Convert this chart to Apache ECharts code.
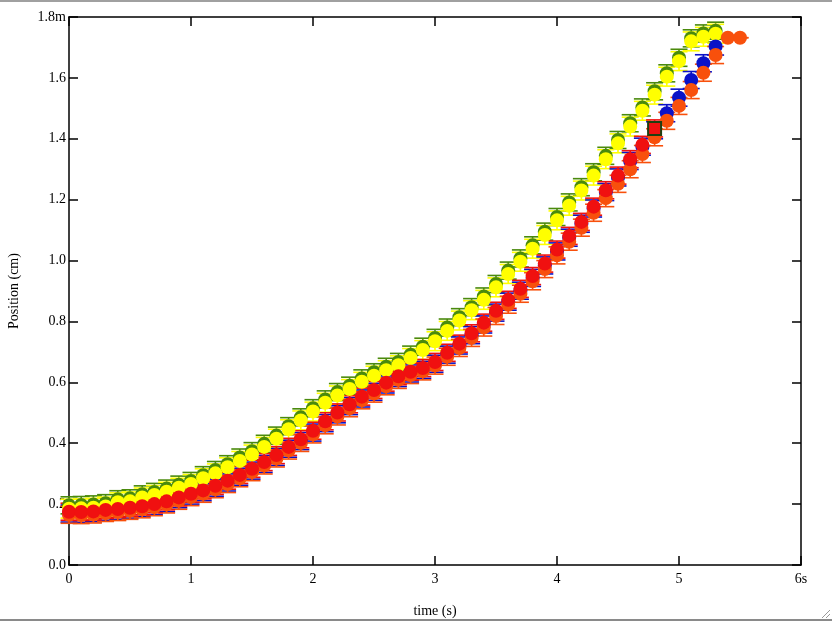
<!DOCTYPE html>
<html>
<head>
<meta charset="utf-8">
<script src="https://cdn.jsdelivr.net/npm/echarts@6/dist/echarts.min.js"></script>
<style>
html,body{margin:0;padding:0;background:#fff;}
#chart{width:832px;height:621px;}
</style>
</head>
<body>
<div id="chart"></div>
<script>
// time values (s)
var times = [0,0.1,0.2,0.3,0.4,0.5,0.6,0.7,0.8,0.9,1.0,1.1,1.2,1.3,1.4,1.5,1.6,1.7,1.8,1.9,
  2.0,2.1,2.2,2.3,2.4,2.5,2.6,2.7,2.8,2.9,3.0,3.1,3.2,3.3,3.4,3.5,3.6,3.7,3.8,3.9,
  4.0,4.1,4.2,4.3,4.4,4.5,4.6,4.7,4.8,4.9,5.0,5.1,5.2,5.3,5.4,5.5];

var greenVals = [0.196,0.197,0.199,0.203,0.216,0.219,0.232,0.240,0.251,0.264,0.276,0.295,0.312,0.331,0.353,0.374,0.398,0.425,0.456,0.485,
  0.515,0.544,0.568,0.589,0.613,0.633,0.651,0.667,0.691,0.717,0.746,0.780,0.814,0.847,0.882,0.923,0.967,1.007,1.050,1.095,
  1.143,1.191,1.241,1.290,1.344,1.396,1.451,1.503,1.556,1.615,1.666,1.730,1.746,1.755];
var yellowVals = [0.185,0.186,0.188,0.192,0.206,0.209,0.222,0.230,0.241,0.254,0.266,0.285,0.301,0.321,0.342,0.363,0.388,0.415,0.446,0.475,
  0.504,0.533,0.557,0.578,0.602,0.622,0.640,0.656,0.680,0.706,0.735,0.769,0.803,0.837,0.871,0.912,0.956,0.996,1.039,1.084,
  1.132,1.180,1.230,1.279,1.333,1.385,1.440,1.492,1.545,1.604,1.655,1.720,1.735,1.745];
var blueVals = [0.169,0.168,0.170,0.175,0.178,0.182,0.187,0.194,0.203,0.216,0.228,0.239,0.254,0.271,0.290,0.310,0.332,0.355,0.382,0.407,
  0.435,0.466,0.495,0.522,0.547,0.569,0.593,0.614,0.629,0.641,0.661,0.691,0.721,0.755,0.790,0.829,0.865,0.901,0.943,0.984,
  1.030,1.075,1.121,1.171,1.225,1.273,1.327,1.374,1.428,1.484,1.535,1.593,1.648,1.703];
var orangeVals = [0.165,0.164,0.166,0.171,0.174,0.178,0.183,0.190,0.199,0.211,0.223,0.234,0.249,0.266,0.285,0.305,0.327,0.350,0.376,0.401,
  0.429,0.459,0.488,0.515,0.541,0.563,0.587,0.608,0.624,0.636,0.655,0.684,0.713,0.746,0.780,0.818,0.855,0.891,0.932,0.972,
  1.017,1.062,1.108,1.157,1.205,1.252,1.300,1.350,1.405,1.459,1.508,1.560,1.617,1.675,1.732,1.732];
var redVals = [0.175,0.174,0.176,0.181,0.184,0.188,0.193,0.200,0.209,0.222,0.234,0.245,0.260,0.277,0.296,0.316,0.338,0.361,0.388,0.413,
  0.441,0.472,0.501,0.528,0.553,0.575,0.599,0.620,0.635,0.647,0.667,0.697,0.727,0.761,0.796,0.835,0.871,0.907,0.949,0.990,
  1.036,1.081,1.127,1.177,1.231,1.279,1.333,1.380,1.434];

// error half-widths (position units)
var errGreen = 0.028, errYellow = 0.031, errBlue = 0.028, errOrange = 0.028, errRed = 0.028;
// orange points with zero error (indices)
var orangeZeroErrIdx = [54, 55];
// red point drawn with square marker
var redSquareIdx = 48;

var xTicks = ['0','1','2','3','4','5','6s'];
var yTicks = ['0.0','0.2','0.4','0.6','0.8','1.0','1.2','1.4','1.6','1.8m'];

function pts(vals, err, zeroIdx) {
  return vals.map(function (v, i) {
    var e = (zeroIdx && zeroIdx.indexOf(i) >= 0) ? 0 : err;
    return [times[i], v, e];
  });
}

var SERIF = '"Liberation Serif","DejaVu Serif",serif';

function errSeries(name, data, color) {
  return {
    name: name + ' err',
    type: 'custom',
    silent: true,
    data: data,
    renderItem: function (params, api) {
      var x = api.value(0), y = api.value(1), e = api.value(2);
      var top = api.coord([x, y + e]);
      var bot = api.coord([x, y - e]);
      var hw = 8.5;
      var st = {stroke: color, lineWidth: 1.6};
      return {
        type: 'group',
        children: [
          {type: 'line', shape: {x1: top[0], y1: top[1], x2: bot[0], y2: bot[1]}, style: st},
          {type: 'line', shape: {x1: top[0] - hw, y1: top[1], x2: top[0] + hw, y2: top[1]}, style: st},
          {type: 'line', shape: {x1: bot[0] - hw, y1: bot[1], x2: bot[0] + hw, y2: bot[1]}, style: st}
        ]
      };
    },
    encode: {x: 0, y: 1}
  };
}

function dotSeries(name, data, color, special) {
  return {
    name: name,
    type: 'scatter',
    symbol: 'circle',
    symbolSize: 14,
    data: data.map(function (d, i) {
      if (special !== undefined && i === special) {
        return {value: d, symbol: 'rect', symbolSize: 13,
          itemStyle: {color: color, borderColor: '#1f3f10', borderWidth: 2}};
      }
      return d;
    }),
    itemStyle: {color: color, opacity: 1},
    emphasis: {disabled: true},
    animation: false
  };
}

var gData = pts(greenVals, errGreen);
var yData = pts(yellowVals, errYellow);
var bData = pts(blueVals, errBlue);
var oData = pts(orangeVals, errOrange, orangeZeroErrIdx);
var rData = pts(redVals, errRed);

var C_GREEN = '#4a8a0c', C_YELLOW = '#ffff00', C_BLUE = '#0a12c8', C_ORANGE = '#f8500c', C_RED = '#f01010';

var axisLineStyle = {color: '#000', width: 1.5};

var option = {
  animation: false,
  backgroundColor: '#fff',
  grid: {left: 69, right: 31, top: 17, bottom: 56, containLabel: false, outerBoundsMode: 'none'},
  xAxis: [{
    type: 'value', min: 0, max: 6, interval: 1, position: 'bottom',
    name: 'time (s)', nameLocation: 'middle', nameGap: 39,
    nameTextStyle: {fontFamily: SERIF, fontSize: 14, color: '#000'},
    axisLine: {show: true, onZero: false, lineStyle: axisLineStyle},
    axisTick: {show: true, inside: true, length: 9, lineStyle: axisLineStyle},
    axisLabel: {fontFamily: SERIF, fontSize: 14, color: '#000', margin: 7,
      formatter: function (v) { return xTicks[Math.round(v)]; }},
    splitLine: {show: false}
  }, {
    type: 'value', min: 0, max: 6, interval: 1, position: 'top',
    axisLine: {show: true, onZero: false, lineStyle: axisLineStyle},
    axisTick: {show: true, inside: true, length: 9, lineStyle: axisLineStyle},
    axisLabel: {show: false},
    splitLine: {show: false}
  }],
  yAxis: [{
    type: 'value', min: 0, max: 1.8, interval: 0.2, position: 'left',
    name: 'Position (cm)', nameLocation: 'middle', nameGap: 48, nameRotate: 90,
    nameTextStyle: {fontFamily: SERIF, fontSize: 14, color: '#000'},
    axisLine: {show: true, onZero: false, lineStyle: axisLineStyle},
    axisTick: {show: true, inside: true, length: 9, lineStyle: axisLineStyle},
    axisLabel: {fontFamily: SERIF, fontSize: 14, color: '#000', margin: 3,
      formatter: function (v) { return yTicks[Math.round(v / 0.2)]; }},
    splitLine: {show: false}
  }, {
    type: 'value', min: 0, max: 1.8, interval: 0.2, position: 'right',
    axisLine: {show: true, onZero: false, lineStyle: axisLineStyle},
    axisTick: {show: true, inside: true, length: 9, lineStyle: axisLineStyle},
    axisLabel: {show: false},
    splitLine: {show: false}
  }],
  graphic: [
    {type: 'rect', left: 0, top: 0, shape: {width: 832, height: 2}, style: {fill: '#a0a0a0'}, silent: true},
    {type: 'rect', left: 0, top: 619, shape: {width: 832, height: 2}, style: {fill: '#8a8a8a'}, silent: true},
    {type: 'line', shape: {x1: 822, y1: 618, x2: 830, y2: 610}, style: {stroke: '#999', lineWidth: 1}, silent: true},
    {type: 'line', shape: {x1: 826, y1: 618, x2: 830, y2: 614}, style: {stroke: '#999', lineWidth: 1}, silent: true}
  ],
  series: [
    errSeries('green', gData, C_GREEN),
    dotSeries('green', gData, C_GREEN),
    errSeries('yellow', yData, C_YELLOW),
    dotSeries('yellow', yData, C_YELLOW),
    errSeries('blue', bData, C_BLUE),
    dotSeries('blue', bData, C_BLUE),
    errSeries('orange', oData, C_ORANGE),
    dotSeries('orange', oData, C_ORANGE),
    errSeries('red', rData, C_RED),
    dotSeries('red', rData, C_RED, redSquareIdx)
  ]
};

var chart = echarts.init(document.getElementById('chart'), null, {renderer: 'canvas'});
chart.setOption(option);
</script>
</body>
</html>
